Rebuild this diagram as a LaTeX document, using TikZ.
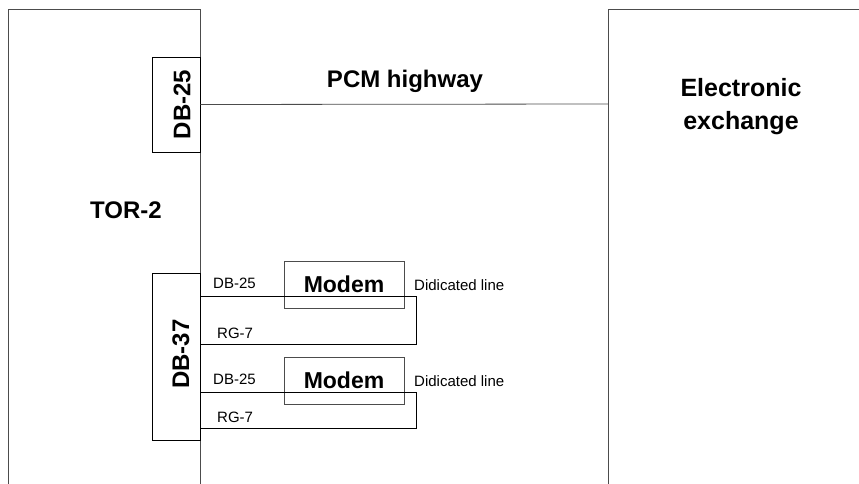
\documentclass[tikz,border=0pt]{standalone}
\usepackage{fontspec}
\setmainfont{Liberation Sans}
\usetikzlibrary{positioning,calc}

\begin{document}
\begin{tikzpicture}[
x=1pt, y=-1pt,
frame/.style={draw=black!70, line width=0.8pt},
wire/.style={draw=black, line width=0.8pt},
conn/.style={draw, line width=0.8pt, inner sep=0pt},
modembox/.style={draw=black!70, line width=0.8pt, inner sep=0pt,
  minimum width=120pt, minimum height=47pt,
  font=\fontsize{23}{26}\selectfont\bfseries},
big/.style={font=\fontsize{24}{32}\selectfont\bfseries, inner sep=0pt},
small/.style={font=\fontsize{15}{17}\selectfont, inner sep=0pt, anchor=base west}
]
\useasboundingbox (0,0) rectangle (859,484);

% racks
\draw[frame] (8,484) -- (8,9) -- (200,9) -- (200,484);
\draw[frame] (608,484) -- (608,9) -- (859,9);
\coordinate (exch) at (608,104);

% connectors on TOR-2
\node[conn, minimum width=48pt, minimum height=95pt] (db25) at (176,104.5) {};
\node[conn, minimum width=48pt, minimum height=167pt] (db37) at (176,356.5) {};
\node[big, rotate=90] at (182,104.5) {DB-25};
\node[big, rotate=90] at (181,354) {DB-37};

% modems
\node[modembox] (modemA) at (344,284.5) {Modem};
\node[modembox] (modemB) at (344,380.5) {Modem};

% PCM highway
\draw[frame] (db25.east) -- (exch);

% cable loops
\draw[wire] (db37.east |- {0,296}) -| (416,344) -- (db37.east |- {0,344});
\draw[wire] (db37.east |- {0,392}) -| (416,428) -- (db37.east |- {0,428});

% labels
\node[big, anchor=base] (tor) at (126,218) {TOR-2};
\node[big, anchor=base] (pcm) at (405,88) {PCM highway};
\node[big, anchor=base, font=\fontsize{25}{32}\selectfont\bfseries] (el1) at (741,97) {Electronic};
\node[big, anchor=base, font=\fontsize{25}{32}\selectfont\bfseries] (el2) at (741,129) {exchange};

\node[small] at (213,288) {DB-25};
\node[small] at (217,338) {RG-7};
\node[small] at (213,384) {DB-25};
\node[small] at (217,422) {RG-7};
\node[small] at (414,290.5) {Didicated line};
\node[small] at (414,386) {Didicated line};

\end{tikzpicture}
\end{document}
